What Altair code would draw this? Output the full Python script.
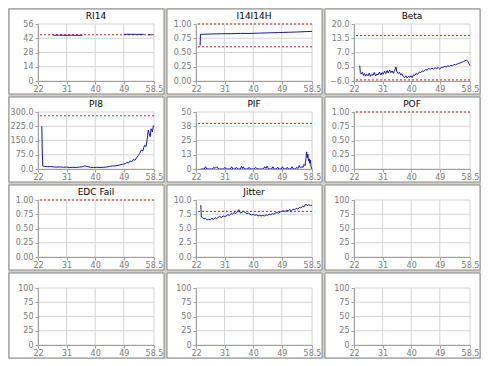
import altair as alt
import pandas as pd

FONT = "DejaVu Sans"
XTICKS = [22, 31, 40, 49, 58.5]

RI14_X = [26.8, 28.5, 30.5, 32.5, 34.5, 36.0, 49.0, 51.0, 53.0, 55.3, 56.6, 57.8]
RI14_Y = [45.0, 45.0, 44.9, 45.0, 44.9, 45.0, 45.8, 45.9, 45.8, 45.8, 45.4, 45.4]
RI14_S = [1, 1, 1, 1, 1, 1, 2, 2, 2, 2, 3, 3]

I14_X = [23.3, 23.4, 24.5, 27, 30, 33, 36, 39, 42, 45, 48, 51, 54, 56, 58.5]
I14_Y = [0.62, 0.82, 0.82, 0.825, 0.83, 0.83, 0.835, 0.835, 0.84, 0.845, 0.85, 0.855, 0.86, 0.865, 0.87]

BETA_X = [23.8, 24.0, 24.3, 24.6, 25.0, 25.3, 25.7, 26.0, 26.4, 26.8, 27.2, 27.6, 28.0, 28.4, 28.8,
          29.2, 29.6, 30.0, 30.4, 30.8, 31.2, 31.6, 32.0, 32.4, 32.8, 33.2, 33.6, 34.0, 34.4, 34.8,
          35.2, 35.5, 35.9, 36.3, 36.7, 37.1, 37.5, 37.9, 38.3, 38.7, 39.1, 39.5, 39.9, 40.3, 40.7,
          41.1, 41.5, 42.0, 42.5, 43.0, 43.5, 44.0, 44.5, 45.0, 45.5, 46.0, 46.5, 47.0, 47.5, 48.0,
          48.5, 49.0, 49.5, 50.0, 50.5, 51.0, 51.5, 52.0, 52.5, 53.0, 53.5, 54.0, 54.5, 55.0, 55.5,
          56.0, 56.5, 57.0, 57.4, 57.8, 58.2, 58.5]
BETA_Y = [1.0, -2.2, -2.8, -2.0, -3.5, -2.6, -3.8, -2.9, -3.6, -2.4, -3.9, -3.0, -3.4, -2.1, -3.7,
          -2.8, -3.2, -1.9, -3.3, -2.2, -2.9, -1.5, -2.6, -1.2, -2.4, -1.0, -2.2, -1.4, -2.5, -1.1,
          0.4, -1.8, -2.6, -2.0, -3.2, -2.7, -3.9, -4.4, -3.6, -4.6, -3.9, -4.3, -3.6, -4.5, -3.2,
          -3.5, -2.6, -2.9, -2.0, -2.2, -1.4, -1.6, -0.8, -1.0, -0.4, -0.6, -0.2, -0.5, 0.0, -0.3,
          0.1, -0.6, 0.3, 0.2, 0.6, 0.4, 0.9, 0.7, 1.1, 1.0, 1.5, 1.4, 1.8, 2.0, 2.3,
          2.6, 2.9, 3.3, 3.6, 3.0, 1.8, 1.0]

PI8_X = [23.2, 23.3, 23.5, 24.0, 25, 26, 27, 28, 29, 30, 31, 32, 33, 34, 35, 36, 36.7, 37.5, 38.5,
         39.5, 40.5, 41.5, 42.5, 43.5, 44.5, 45.5, 46.5, 47.5, 48.5, 49.5, 50.0, 50.5, 51.0, 51.5,
         52.0, 52.5, 53.0, 53.5, 54.0, 54.5, 55.0, 55.5, 56.0, 56.3, 56.7, 57.0, 57.3, 57.6, 58.0,
         58.3, 58.5]
PI8_Y = [225, 120, 15, 14, 12, 13, 11, 10, 11, 9, 10, 8, 9, 8, 10, 12, 16, 13, 9,
         8, 9, 8, 9, 10, 14, 16, 17, 20, 25, 28, 35, 31, 42, 38,
         50, 46, 58, 70, 82, 100, 95, 125, 118, 150, 205, 185, 170, 212, 195,
         228, 222]

PIF_X = [23.5, 24.6, 25.0, 25.4, 27.2, 27.6, 28.0, 28.5, 28.9, 29.3, 30.7, 31.1, 31.5, 32.8, 33.2,
         33.6, 34.3, 34.7, 35.1, 36.0, 36.3, 36.6, 36.9, 37.2, 38.3, 38.7, 39.1, 40.3, 40.7, 41.1,
         41.5, 43.2, 43.6, 44.0, 44.4, 44.8, 45.8, 46.2, 46.6, 47.3, 47.7, 48.1, 48.8, 49.2, 49.6,
         50.3, 50.7, 51.1, 51.8, 52.2, 52.6, 53.3, 53.7, 54.1, 54.5, 54.9, 55.3, 55.7, 56.0, 56.3,
         56.6, 56.8, 57.0, 57.2, 57.4, 57.6, 57.8, 58.0, 58.2, 58.5]
PIF_Y = [0, 0, 2, 0, 0, 1.5, 0.5, 2, 0.5, 0, 0, 1.5, 0, 0, 2,
         0, 0, 1.5, 0, 0, 2.5, 0.5, 2, 0, 0, 1.5, 0, 0, 1.5, 0.5,
         0, 0, 2, 0.5, 2.5, 0, 0, 2, 0, 0, 1.5, 0, 0, 2, 0,
         0, 1.5, 0, 0, 2, 0, 0, 1.5, 0.5, 3, 1, 2, 1.5, 4, 3,
         9, 15, 10, 13, 7, 9, 5, 8, 2, 0]

JIT_X = [23.5, 23.7, 24.0, 24.5, 25.0, 25.5, 26.0, 26.5, 27.0, 27.5, 28.0, 28.5, 29.0, 29.5, 30.0,
         30.5, 31.0, 31.5, 32.0, 32.5, 33.0, 33.5, 34.0, 34.5, 35.0, 35.5, 36.0, 36.5, 37.0, 37.5,
         38.0, 38.5, 39.0, 39.5, 40.0, 40.5, 41.0, 41.5, 42.0, 42.5, 43.0, 43.5, 44.0, 44.5, 45.0,
         45.5, 46.0, 46.5, 47.0, 47.5, 48.0, 48.5, 49.0, 49.5, 50.0, 50.5, 51.0, 51.5, 52.0, 52.5,
         53.0, 53.5, 54.0, 54.5, 55.0, 55.5, 56.0, 56.5, 57.0, 57.5, 58.0, 58.5]
JIT_Y = [9.1, 7.0, 6.9, 6.7, 6.8, 6.5, 6.6, 6.5, 6.8, 6.6, 6.9, 6.7, 7.0, 7.1, 6.9,
         7.2, 7.1, 7.2, 7.4, 7.3, 7.6, 7.5, 7.8, 7.6, 7.9, 8.3, 7.7, 7.9, 8.0, 7.8,
         7.6, 7.7, 7.5, 7.4, 7.5, 7.3, 7.4, 7.2, 7.3, 7.2, 7.3, 7.2, 7.4, 7.3, 7.5,
         7.4, 7.6, 7.5, 7.7, 7.8, 7.7, 7.9, 8.0, 8.1, 8.0, 8.2, 8.1, 8.3, 8.1, 8.4,
         8.3, 8.5, 8.4, 8.7, 8.6, 8.9, 8.8, 9.3, 9.0, 9.2, 9.0, 9.1]

TITLES = ["RI14", "I14I14H", "Beta", "PI8", "PIF", "POF", "EDC Fail", "Jitter", "", "", "", ""]
YTICKS = [[0, 14, 28, 42, 56], [0, 0.25, 0.5, 0.75, 1.0], [-6, 0.5, 7, 13.5, 20],
          [0, 75, 150, 225, 300], [0, 12.5, 25, 37.5, 50], [0, 0.25, 0.5, 0.75, 1.0],
          [0, 0.25, 0.5, 0.75, 1.0], [0, 2.5, 5, 7.5, 10],
          [0, 25, 50, 75, 100], [0, 25, 50, 75, 100], [0, 25, 50, 75, 100], [0, 25, 50, 75, 100]]
YFMT = [".0f", ".2f", ".1f", ".1f", ".0f", ".2f", ".2f", ".1f", ".0f", ".0f", ".0f", ".0f"]
LIMITS = [[45.4], [1.0, 0.6], [14.7, -5.5], [280], [40], [1.0], [1.0], [8.0], [], [], [], []]
SERIES = [(RI14_X, RI14_Y, RI14_S), (I14_X, I14_Y, None), (BETA_X, BETA_Y, None),
          (PI8_X, PI8_Y, None), (PIF_X, PIF_Y, None), None, None, (JIT_X, JIT_Y, None),
          None, None, None, None]

W, H = 116, 57
LEFT, RIGHT, TOP, BOTTOM = 29, 10, 15, 13
GRID = "#d4d4d4"
AXC = "#a0a0a0"
LAB = "#7a7a7a"


def panel(i):
    yt = YTICKS[i]
    xsc = alt.Scale(domain=[22, 58.5], nice=False, zero=False)
    ysc = alt.Scale(domain=[yt[0], yt[-1]], nice=False, zero=False)
    xax = alt.Axis(values=XTICKS, format=".4~g", grid=False, labelFlush=False, labelOverlap=False,
                   labelFont=FONT, labelFontSize=8, labelColor=LAB, domainColor=AXC,
                   tickColor=AXC, tickSize=3, labelPadding=1, zindex=1)
    yax = alt.Axis(values=yt, format=YFMT[i], grid=False, labelOverlap=False, labelFlush=False,
                   labelFont=FONT, labelFontSize=8, labelColor=LAB, domainColor=AXC,
                   tickColor=AXC, tickSize=3, labelPadding=2, zindex=1)
    one = pd.DataFrame({"k": [0]})
    bg = alt.Chart(one).mark_rect(fill="white", stroke="#8a8a8a", strokeWidth=1).encode(
        x=alt.value(-LEFT), x2=alt.value(W + RIGHT), y=alt.value(-TOP), y2=alt.value(H + BOTTOM))
    xg = alt.Chart(pd.DataFrame({"v": XTICKS})).mark_rule(color=GRID, strokeWidth=1).encode(
        x=alt.X("v:Q", scale=xsc, axis=xax, title=None))
    yg = alt.Chart(pd.DataFrame({"v": yt})).mark_rule(color=GRID, strokeWidth=1).encode(
        y=alt.Y("v:Q", scale=ysc, axis=yax, title=None))
    layers = [bg, xg, yg]
    if LIMITS[i]:
        layers.append(alt.Chart(pd.DataFrame({"v": LIMITS[i]})).mark_rule(
            color="#d02020", strokeWidth=1, strokeDash=[2, 2]).encode(
            y=alt.Y("v:Q", scale=ysc, axis=yax, title=None)))
    if SERIES[i] is not None:
        xs, ys, ss = SERIES[i]
        df = pd.DataFrame({"x": xs, "y": ys, "s": ss if ss else [1] * len(xs)})
        layers.append(alt.Chart(df).mark_line(color="#1414b4", strokeWidth=1).encode(
            x=alt.X("x:Q", scale=xsc, axis=xax, title=None),
            y=alt.Y("y:Q", scale=ysc, axis=yax, title=None),
            detail="s:N", order="x:Q"))
    if TITLES[i]:
        layers.append(alt.Chart(one).mark_text(font=FONT, fontSize=9, color="black",
                                               align="center", baseline="middle").encode(
            x=alt.value(W / 2), y=alt.value(-8), text=alt.value(TITLES[i])))
    return alt.layer(*layers).properties(width=W, height=H)


chart = alt.concat(*[panel(i) for i in range(12)], columns=3, bounds="flush",
                   spacing={"row": 88 - H, "column": 158 - W}).properties(
    padding={"left": 0, "top": 0, "right": 0, "bottom": 0}
).configure(background="#d4d0c8").configure_view(strokeWidth=0)

chart.save("out.html", embed_options={"renderer": "svg", "actions": False})
